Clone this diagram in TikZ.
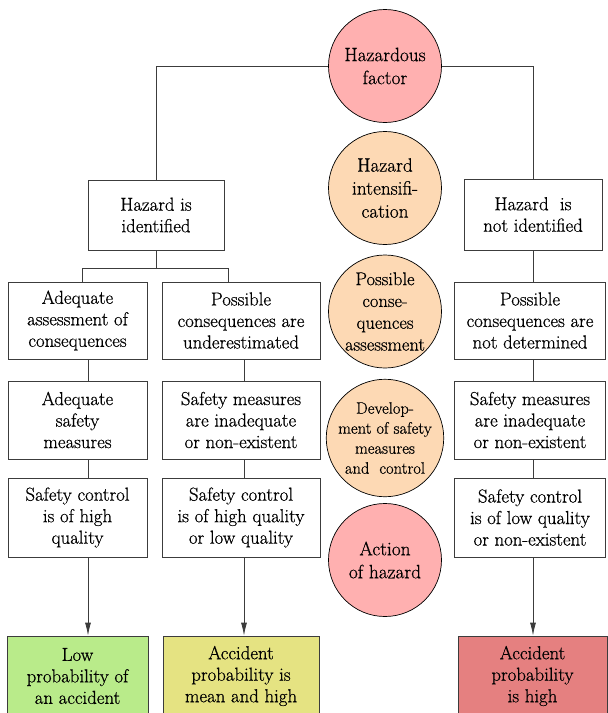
\documentclass[tikz,border=0pt]{standalone}
\usepackage{fontspec}
\setmainfont{Latin Modern Roman}[FakeBold=0.6]
\usetikzlibrary{arrows.meta}
\definecolor{pinkc}{RGB}{255,176,176}
\definecolor{peach}{RGB}{253,217,180}
\definecolor{greenc}{RGB}{185,235,138}
\definecolor{yellowc}{RGB}{229,227,130}
\definecolor{redc}{RGB}{229,128,128}
\definecolor{linec}{RGB}{60,60,60}
\begin{document}
\begin{tikzpicture}[x=1pt,y=-1pt,
  box/.style={draw=linec, line width=0.8pt, align=center, inner sep=0pt,
    font=\fontsize{18.8}{21.5}\selectfont},
  colL/.style={minimum width=139pt},
  colM/.style={minimum width=158pt},
  colR/.style={minimum width=151pt},
  rowB/.style={minimum height=77pt},
  rowC/.style={minimum height=78pt},
  rowD/.style={minimum height=79pt},
  rowE/.style={minimum height=80pt},
  circ/.style={circle, draw=black, line width=0.7pt, minimum size=113pt,
    inner sep=0pt, align=center, font=\fontsize{19.3}{23}\selectfont},
  conn/.style={draw=linec, line width=0.8pt},
  arr/.style={conn, -{Latex[length=13pt,width=6pt]}}]
\useasboundingbox (0,0) rectangle (608,713);

% central circles
\node[circ, fill=pinkc] (hf) at (385,66) {Hazardous\\factor};
\node[circ, fill=peach] (hi) at (385,188) {Hazard\\intensifi-\\cation};
\node[circ, fill=peach, font=\fontsize{18.5}{21.8}\selectfont] (pca) at (385,311.5) {Possible\\conse-\\quences\\assessment};
\node[circ, fill=peach, font=\fontsize{16.5}{20}\selectfont] (dev) at (385,438) {Develop-\\ment of safety\\measures\\and\ \ control};
\node[circ, fill=pinkc] (act) at (385,560) {Action\\of hazard};

% top-level boxes
\node[box, minimum width=136pt, minimum height=70pt] (hid) at (156,215) {Hazard is\\identified};
\node[box, minimum width=138pt, minimum height=71pt] (hnid) at (533,214.5) {Hazard\ \ is\\not identified};

% row B
\node[box, colL, rowB] (aac) at (77.5,320.5) {Adequate\\assessment of\\consequences};
\node[box, colM, rowB] (pcu) at (241,320.5) {Possible\\consequences are\\underestimated};
\node[box, colR, rowB] (pcnd) at (530,320.5) {Possible\\consequences are\\not determined};

% row C
\node[box, colL, rowC] (asm) at (77.5,420) {Adequate\\safety\\measures};
\node[box, colM, rowC] (smi) at (241,420) {Safety measures\\are inadequate\\or non-existent};
\node[box, colR, rowC] (smn) at (530,420) {Safety measures\\are inadequate\\or non-existent};

% row D
\node[box, colL, rowD] (sch) at (77.5,517.5) {Safety control\\is of high\\quality};
\node[box, colM, rowD] (shl) at (241,517.5) {Safety control\\is of high quality\\or low quality};
\node[box, colR, rowD] (sln) at (530,517.5) {Safety control\\is of low quality\\or non-existent};

% results
\node[box, fill=greenc, minimum width=141pt, rowE] (low) at (77.5,676) {Low\\probability of\\an accident};
\node[box, fill=yellowc, minimum width=156pt, rowE] (mean) at (241,676) {Accident\\probability is\\mean and high};
\node[box, fill=redc, minimum width=149pt, rowE] (high) at (532.5,676) {Accident\\probability\\is high};

% column coordinates
\coordinate (cL) at (88,0);
\coordinate (cM) at (244,0);
\coordinate (cR) at (533,0);
\coordinate (bl) at (82,268);
\coordinate (br) at (228,268);

% connectors
\draw[conn] (hf.west) -| (hid.north);
\draw[conn] (hf.east) -| (hnid.north);
\draw[conn] (hid.south) -- (hid.south |- bl);
\draw[conn] (aac.north -| bl) |- (br) -- (pcu.north -| br);
\draw[conn] (hnid.south) -- (pcnd.north -| cR);

\draw[conn] (aac.south -| cL) -- (asm.north -| cL);
\draw[conn] (asm.south -| cL) -- (sch.north -| cL);
\draw[conn] (pcu.south -| cM) -- (smi.north -| cM);
\draw[conn] (smi.south -| cM) -- (shl.north -| cM);
\draw[conn] (pcnd.south -| cR) -- (smn.north -| cR);
\draw[conn] (smn.south -| cR) -- (sln.north -| cR);

\draw[arr] (sch.south -| cL) -- (low.north -| cL);
\draw[arr] (shl.south -| cM) -- (mean.north -| cM);
\draw[arr] (sln.south -| cR) -- (high.north -| cR);
\end{tikzpicture}
\end{document}
